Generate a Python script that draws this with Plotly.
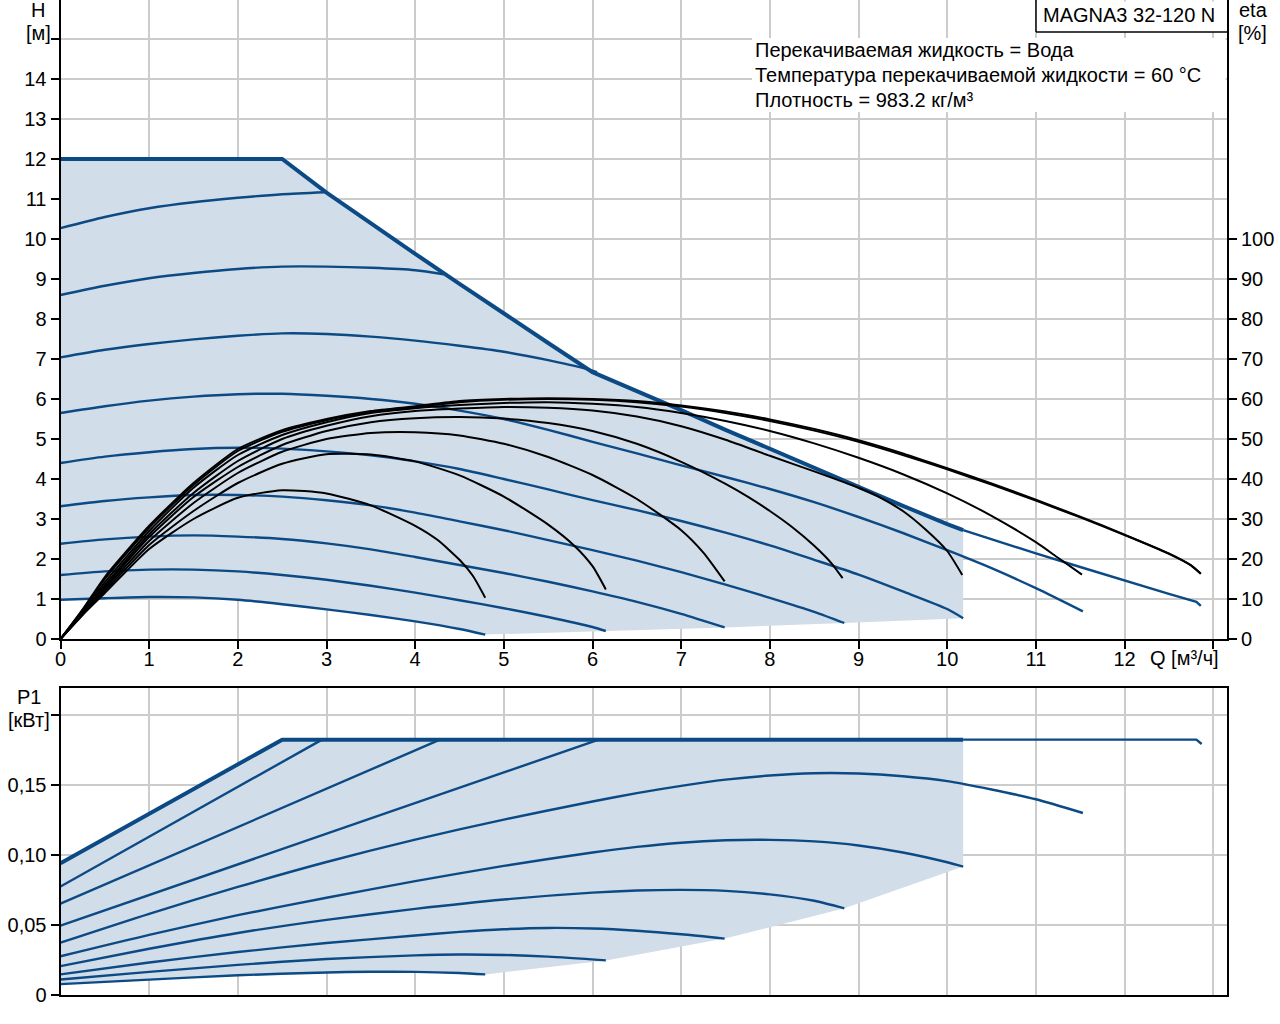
import plotly.graph_objects as go

W, HPX = 1280, 1024
BLUE = "#0b4a85"
SHADE = "#d1dde8"
GRID = "#cccccc"
FONT = "Liberation Sans, Arial, sans-serif"

# ---------------- Top chart: H [m] vs Q [m3/h] ----------------
q_max = [0, 2.5, 3.0, 3.5, 4.0, 4.5, 5.0, 5.5, 6.0, 6.5, 7.0, 7.5, 8.0, 8.5, 9.0, 9.5, 10.0, 10.18]
h_max = [12, 12, 11.16, 10.38, 9.63, 8.88, 8.13, 7.4, 6.67, 6.2, 5.72, 5.23, 4.75, 4.27, 3.8, 3.33, 2.87, 2.72]
q_max_ext = [10.18, 10.5, 11.0, 11.5, 12.0, 12.5, 12.81, 12.86]
h_max_ext = [2.72, 2.49, 2.14, 1.8, 1.46, 1.13, 0.93, 0.83]

q_I = [0, 0.5, 1, 1.5, 2, 2.5, 2.98]
h_I = [10.27, 10.55, 10.77, 10.92, 11.03, 11.12, 11.17]
q_H = [0, 0.5, 1, 1.5, 2, 2.5, 3, 3.5, 4, 4.32]
h_H = [8.6, 8.83, 9.02, 9.15, 9.25, 9.31, 9.31, 9.28, 9.22, 9.12]
q_G = [0, 0.5, 1, 1.5, 2, 2.5, 3, 3.5, 4, 4.5, 5, 5.5, 6, 6.05]
h_G = [7.04, 7.23, 7.375, 7.49, 7.58, 7.64, 7.625, 7.56, 7.46, 7.33, 7.18, 6.97, 6.71, 6.67]
q_A = [0, 0.5, 1, 1.5, 2, 2.5, 3, 3.5, 4, 4.5, 5, 5.5, 6, 6.5, 7, 7.5, 8, 8.5, 9, 9.5, 10, 10.5, 11, 11.53]
h_A = [5.65, 5.82, 5.96, 6.06, 6.12, 6.13, 6.08, 6.0, 5.88, 5.71, 5.5, 5.23, 4.93, 4.64, 4.34, 4.05, 3.75, 3.42, 3.05, 2.65, 2.22, 1.77, 1.27, 0.69]
q_B = [0, 0.5, 1, 1.5, 2, 2.5, 3, 3.5, 4, 4.5, 5, 5.5, 6, 6.5, 7, 7.5, 8, 8.5, 9, 9.5, 10, 10.18]
h_B = [4.4, 4.56, 4.67, 4.75, 4.78, 4.76, 4.69, 4.59, 4.44, 4.25, 4.0, 3.74, 3.47, 3.22, 2.95, 2.66, 2.34, 1.98, 1.61, 1.19, 0.75, 0.52]
q_C = [0, 0.5, 1, 1.5, 2, 2.5, 3, 3.5, 4, 4.5, 5, 5.5, 6, 6.5, 7, 7.5, 8, 8.5, 8.84]
h_C = [3.32, 3.45, 3.54, 3.6, 3.6, 3.56, 3.47, 3.34, 3.16, 2.94, 2.72, 2.47, 2.22, 1.96, 1.67, 1.36, 1.03, 0.68, 0.4]
q_D = [0, 0.5, 1, 1.5, 2, 2.5, 3, 3.5, 4, 4.5, 5, 5.5, 6, 6.5, 7, 7.49]
h_D = [2.38, 2.49, 2.56, 2.59, 2.56, 2.5, 2.39, 2.24, 2.05, 1.85, 1.65, 1.43, 1.19, 0.93, 0.63, 0.29]
q_E = [0, 0.5, 1, 1.5, 2, 2.5, 3, 3.5, 4, 4.5, 5, 5.5, 6, 6.15]
h_E = [1.6, 1.69, 1.735, 1.735, 1.69, 1.6, 1.48, 1.33, 1.16, 0.97, 0.77, 0.55, 0.3, 0.2]
q_F = [0, 0.5, 1, 1.5, 2, 2.5, 3, 3.5, 4, 4.5, 4.79]
h_F = [0.98, 1.02, 1.05, 1.04, 0.98, 0.87, 0.74, 0.6, 0.44, 0.25, 0.11]

# efficiency curves, eta [%]
q_e1 = [0, 0.25, 0.5, 1, 1.5, 2, 2.5, 3, 3.5, 4, 4.25, 4.5, 4.65, 4.79]
eta_e1 = [0, 6, 11.5, 22.5, 30, 35.3, 37.2, 36.4, 33.4, 28.3, 24.8, 19.8, 15.8, 10.3]
q_e2 = [0, 0.25, 0.5, 1, 1.5, 2, 2.5, 3, 3.5, 4, 4.5, 5, 5.5, 5.8, 6.0, 6.15]
eta_e2 = [0, 6.2, 12, 23.5, 32, 39, 43.8, 46.2, 46.1, 44.4, 40.9, 35.6, 28.6, 23.2, 18.2, 12.4]
q_e3 = [0, 0.25, 0.5, 1, 1.5, 2, 2.5, 3, 3.5, 4, 4.5, 5, 5.5, 6, 6.5, 7, 7.25, 7.49]
eta_e3 = [0, 6.3, 12.5, 24.5, 34, 41.5, 46.8, 50, 51.5, 51.7, 50.9, 48.8, 45.5, 41, 35, 27.2, 21.6, 14.4]
q_e4 = [0, 0.25, 0.5, 1, 1.5, 2, 2.5, 3, 3.5, 4, 4.5, 5, 5.5, 6, 6.5, 7, 7.5, 7.75, 8, 8.25, 8.5, 8.7, 8.82]
eta_e4 = [0, 6.5, 13, 25.5, 35.5, 43, 48.5, 52, 54.2, 55.2, 55.5, 55.1, 54, 52, 48.8, 44.3, 38.8, 35.6, 32, 28, 23.3, 18.8, 15.2]
q_e5 = [0, 0.25, 0.5, 1, 1.5, 2, 2.5, 3, 3.5, 4, 4.5, 5, 5.5, 6, 6.5, 7, 7.5, 8, 8.5, 9, 9.25, 9.5, 9.75, 10, 10.17]
eta_e5 = [0, 6.7, 13.5, 26.2, 36.5, 44.5, 50, 53.3, 55.7, 57, 57.6, 58, 57.8, 57.1, 55.6, 53.2, 49.8, 45.8, 41.9, 37.8, 35.3, 32, 27.5, 22, 16]
q_e6 = [0, 0.25, 0.5, 1, 1.5, 2, 2.5, 3, 3.5, 4, 4.5, 5, 5.5, 6, 6.5, 7, 7.5, 8, 8.5, 9, 9.5, 10, 10.5, 11, 11.25, 11.52]
eta_e6 = [0, 7, 14.2, 27, 37.8, 46, 51, 54.2, 56.5, 57.7, 58.5, 59, 59.2, 58.8, 58, 56.5, 54.5, 52, 48.9, 45.3, 41.2, 36.4, 30.8, 24.2, 20.3, 16.1]
q_e7 = [0, 0.25, 0.5, 1, 1.5, 2, 2.5, 3, 3.5, 4, 4.5, 5, 5.5, 6, 6.5, 7, 7.5, 8, 8.5, 9, 9.5, 10, 10.5, 11, 11.5, 12, 12.5, 12.75, 12.86]
eta_e7 = [0, 7.2, 15, 27.8, 38.5, 47, 51.8, 54.7, 56.8, 58, 59.2, 59.8, 60, 59.8, 59.2, 58.1, 56.5, 54.5, 52.1, 49.3, 46.0, 42.4, 38.6, 34.6, 30.4, 26.0, 21.3, 18.4, 16.3]
eta_e7b = [0, 7.4, 15.5, 28.3, 39, 47.5, 52.2, 55, 57, 58.2, 59.5, 60, 60.2, 60, 59.5, 58.4, 56.9, 54.9, 52.5, 49.7, 46.4, 42.7, 38.9, 34.8, 30.6, 26.1, 21.4, 18.4, 16.3]

# ---------------- Bottom chart: P1 [kW] vs Q ----------------
qp_max = [0, 2.5, 10.18]
p_max = [0.0941, 0.1824, 0.1824]
qp_max_ext = [10.18, 12.81, 12.87]
p_max_ext = [0.1824, 0.1824, 0.1793]
qp_I = [0, 2.95]
p_I = [0.0775, 0.1824]
qp_H = [0, 4.28]
p_H = [0.0652, 0.1824]
qp_G = [0, 6.07]
p_G = [0.0495, 0.1824]
qp_A = [0, 1, 2, 3, 4, 5, 6, 6.5, 7, 7.5, 8, 8.5, 9, 9.5, 10, 10.5, 11, 11.53]
p_A = [0.0374, 0.058, 0.0772, 0.095, 0.111, 0.1253, 0.1382, 0.1442, 0.1494, 0.1538, 0.1568, 0.1584, 0.1582, 0.1563, 0.1528, 0.1468, 0.1398, 0.130]
qp_B = [0, 1, 2, 3, 4, 5, 6, 6.5, 7, 7.5, 8, 8.5, 9, 9.5, 10, 10.18]
p_B = [0.0277, 0.043, 0.057, 0.0695, 0.0813, 0.0922, 0.1018, 0.1058, 0.1088, 0.1105, 0.1108, 0.1097, 0.1068, 0.1018, 0.0948, 0.0917]
qp_C = [0, 1, 2, 3, 4, 5, 6, 6.5, 7, 7.5, 8, 8.5, 8.84]
p_C = [0.0206, 0.033, 0.0443, 0.0537, 0.0615, 0.0682, 0.0731, 0.0746, 0.0751, 0.0744, 0.0719, 0.0673, 0.0619]
qp_D = [0, 1, 2, 3, 4, 4.5, 5, 5.5, 6, 6.5, 7, 7.49]
p_D = [0.0147, 0.0232, 0.0307, 0.0371, 0.0425, 0.0451, 0.047, 0.0479, 0.0475, 0.0459, 0.0434, 0.0403]
qp_E = [0, 1, 2, 3, 4, 4.5, 5, 5.5, 6.15]
p_E = [0.0111, 0.0165, 0.0215, 0.0257, 0.0283, 0.0289, 0.0286, 0.0274, 0.0247]
qp_F = [0, 1, 2, 3, 3.5, 4, 4.5, 4.79]
p_F = [0.0078, 0.011, 0.0141, 0.0161, 0.0166, 0.0165, 0.0157, 0.0147]

# ticks
q_ticks = list(range(0, 14))
q_ticktext = [str(v) for v in range(0, 13)] + [""]
h_ticks = list(range(0, 16))
h_ticktext = [str(v) for v in range(0, 15)] + [""]
eta_ticks = list(range(0, 101, 10))
p_ticks = [0, 0.05, 0.10, 0.15, 0.20]
p_ticktext = ["0", "0,05", "0,10", "0,15", ""]

info_lines = ["Перекачиваемая жидкость = Вода",
              "Температура перекачиваемой жидкости = 60 °C",
              "Плотность = 983.2 кг/м³"]
title_box = "MAGNA3 32-120 N"


def px_x(px):
    return px / W


def px_y(py):
    return 1 - py / HPX


fig = go.Figure()

# ---- shaded operating areas (built from the curve data) ----
top_ends_q = [q_E[-1], q_D[-1], q_C[-1], q_B[-1]]
top_ends_h = [h_E[-1], h_D[-1], h_C[-1], h_B[-1]]
shade_top_q = q_F + top_ends_q + q_max[::-1]
shade_top_h = h_F + top_ends_h + h_max[::-1]
fig.add_trace(go.Scatter(x=shade_top_q, y=shade_top_h, mode="lines", fill="toself",
                         fillcolor=SHADE, line=dict(width=0),
                         xaxis="x", yaxis="y", hoverinfo="skip", showlegend=False))

bot_ends_q = [qp_E[-1], qp_D[-1], qp_C[-1], qp_B[-1]]
bot_ends_p = [p_E[-1], p_D[-1], p_C[-1], p_B[-1]]
shade_bot_q = qp_F + bot_ends_q + qp_max[::-1]
shade_bot_p = p_F + bot_ends_p + p_max[::-1]
fig.add_trace(go.Scatter(x=shade_bot_q, y=shade_bot_p, mode="lines", fill="toself",
                         fillcolor=SHADE, line=dict(width=0), xaxis="x2", yaxis="y3",
                         hoverinfo="skip", showlegend=False))


def blue(q, v, ax_x, ax_y, w=2.4, shape="spline"):
    fig.add_trace(go.Scatter(x=q, y=v, mode="lines", xaxis=ax_x, yaxis=ax_y,
                             line=dict(color=BLUE, width=w, shape=shape, smoothing=0.7),
                             hoverinfo="skip", showlegend=False))


# top blue curves
for q, h in [(q_F, h_F), (q_E, h_E), (q_D, h_D), (q_C, h_C), (q_B, h_B),
             (q_A, h_A), (q_G, h_G), (q_H, h_H), (q_I, h_I)]:
    blue(q, h, "x", "y")
blue(q_max_ext, h_max_ext, "x", "y", w=2.4, shape="linear")
blue(q_max, h_max, "x", "y", w=4, shape="linear")

# bottom blue curves
for q, p in [(qp_F, p_F), (qp_E, p_E), (qp_D, p_D), (qp_C, p_C), (qp_B, p_B),
             (qp_A, p_A)]:
    blue(q, p, "x2", "y3")
for q, p in [(qp_G, p_G), (qp_H, p_H), (qp_I, p_I)]:
    blue(q, p, "x2", "y3", shape="linear")
blue(qp_max_ext, p_max_ext, "x2", "y3", w=2.4, shape="linear")
blue(qp_max, p_max, "x2", "y3", w=4, shape="linear")

# efficiency curves (black, on eta axis)
for q, e in [(q_e1, eta_e1), (q_e2, eta_e2), (q_e3, eta_e3), (q_e4, eta_e4),
             (q_e5, eta_e5), (q_e6, eta_e6), (q_e7, eta_e7), (q_e7, eta_e7b)]:
    fig.add_trace(go.Scatter(x=q, y=e, mode="lines", xaxis="x", yaxis="y2",
                             line=dict(color="black", width=2, shape="spline", smoothing=0.6),
                             hoverinfo="skip", showlegend=False))

x_dom = [60.5 / W, 1227 / W]
q_range = [0, (1227 - 60.5) / 88.67]
tickfont = dict(family=FONT, size=20, color="black")

common_x = dict(domain=x_dom, range=q_range, tickvals=q_ticks, showgrid=True,
                gridcolor=GRID, gridwidth=1.5, zeroline=False, showline=True,
                linecolor="black", linewidth=2, mirror=True, tickfont=tickfont,
                automargin=False)

fig.update_layout(
    width=W, height=HPX,
    margin=dict(l=0, r=0, t=0, b=0, autoexpand=False),
    paper_bgcolor="white", plot_bgcolor="white",
    font=dict(family=FONT, size=20, color="black"),
    xaxis=dict(**common_x, anchor="y", ticktext=q_ticktext, ticks="outside",
               ticklen=8, tickwidth=1.5, tickcolor="black", ticklabelstandoff=-7),
    yaxis=dict(domain=[px_y(639), 1.0], range=[0, 639 / 40], tickvals=h_ticks,
               ticktext=h_ticktext, ticks="outside", ticklen=8, tickwidth=1.5,
               tickcolor="black", showgrid=True, gridcolor=GRID, gridwidth=1.5,
               zeroline=False, showline=True, linecolor="black", linewidth=2,
               anchor="x", tickfont=tickfont, automargin=False),
    yaxis2=dict(overlaying="y", side="right", anchor="x", range=[0, 639 / 4],
                tickvals=eta_ticks, ticks="outside", ticklen=8, tickwidth=1.5,
                tickcolor="black", showgrid=False, zeroline=False, showline=True,
                linecolor="black", linewidth=2, tickfont=tickfont, automargin=False),
    xaxis2=dict(**common_x, anchor="y3", showticklabels=False, ticks=""),
    yaxis3=dict(domain=[px_y(995), px_y(688)], range=[0, (995 - 688) / 1400],
                tickvals=p_ticks, ticktext=p_ticktext, ticks="outside", ticklen=8,
                tickwidth=1.5, tickcolor="black", showgrid=True, gridcolor=GRID,
                gridwidth=1.5, zeroline=False, showline=True, linecolor="black",
                linewidth=2, mirror=True, anchor="x2", tickfont=tickfont,
                automargin=False),
)

shapes = [
    dict(type="rect", xref="paper", yref="paper", x0=px_x(752), x1=px_x(1225.5),
         y0=px_y(112), y1=px_y(38), fillcolor="white", line=dict(width=0), layer="above"),
    dict(type="rect", xref="paper", yref="paper", x0=px_x(1036), x1=px_x(1225.5),
         y0=px_y(32), y1=px_y(1.5), fillcolor="white", line=dict(width=0), layer="above"),
    dict(type="line", xref="paper", yref="paper", x0=px_x(1036), x1=px_x(1036),
         y0=px_y(32), y1=px_y(0), line=dict(color="black", width=1.5), layer="above"),
    dict(type="line", xref="paper", yref="paper", x0=px_x(1036), x1=px_x(1227),
         y0=px_y(32), y1=px_y(32), line=dict(color="black", width=1.5), layer="above"),
]
fig.update_layout(shapes=shapes)


def ann(text, x, y, xanchor="center", yanchor="middle"):
    fig.add_annotation(text=text, xref="paper", yref="paper", x=px_x(x), y=px_y(y),
                       xanchor=xanchor, yanchor=yanchor, showarrow=False,
                       font=dict(family=FONT, size=20, color="black"))


ann("H", 38, 10)
ann("[м]", 38, 33)
ann("eta", 1253, 10)
ann("[%]", 1252, 33)
ann("Q [м³/ч]", 1221, 658, xanchor="right")
ann("P1", 29, 697)
ann("[кВт]", 29, 720)
ann(title_box, 1129, 15)
for i, line in enumerate(info_lines):
    ann(line, 753, 50 + 25 * i, xanchor="left")

fig.write_html("out.html")
